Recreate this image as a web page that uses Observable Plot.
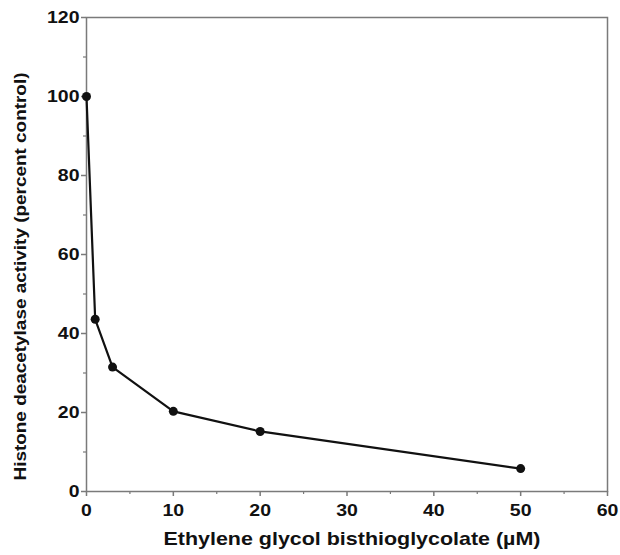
<!DOCTYPE html>
<html>
<head>
<meta charset="utf-8">
<script src="https://cdn.jsdelivr.net/npm/d3@7"></script>
<script src="https://cdn.jsdelivr.net/npm/@observablehq/plot@0.6"></script>
<style>
  html, body { margin: 0; padding: 0; background: #fff; }
  #chart svg { display: block; }
</style>
</head>
<body>
<div id="chart"></div>
<script>
// Inhibitor concentration (µM) and remaining HDAC activity (% of control)
const concentration = [0, 1, 3, 10, 20, 50];
const activity = [100, 43.6, 31.5, 20.3, 15.2, 5.8];

const xMajor = [0, 10, 20, 30, 40, 50, 60];
const xMinor = [5, 15, 25, 35, 45, 55];
const yMajor = [0, 20, 40, 60, 80, 100, 120];
const yMinor = [10, 30, 50, 70, 90, 110];

const xTitle = "Ethylene glycol bisthioglycolate (µM)";
const yTitle = "Histone deacetylase activity (percent control)";

const data = concentration.map((c, i) => ({c, a: activity[i]}));

const axisColor = "#7a7a7a";
const font = "Liberation Sans, Arial, Helvetica, sans-serif";

const chart = Plot.plot({
  width: 620,
  height: 555,
  marginLeft: 86,
  marginRight: 13,
  marginTop: 17,
  marginBottom: 64,
  style: {fontFamily: font, fontWeight: "bold", fontSize: "16.8px", background: "#fff", color: "#111"},
  x: {domain: [0, 60]},
  y: {domain: [0, 120]},
  marks: [
    Plot.frame({stroke: axisColor, strokeWidth: 1.5}),
    Plot.axisX(xMinor, {tickSize: 3, stroke: axisColor, strokeWidth: 1.2, text: null, label: null}),
    Plot.axisY(yMinor, {tickSize: 3, stroke: axisColor, strokeWidth: 1.2, text: null, label: null}),
    Plot.axisX(xMajor, {
      tickSize: 5, tickPadding: 8, stroke: axisColor, strokeWidth: 1.5,
      fill: "#111", fontSize: 16.8, fontWeight: "bold", label: null
    }),
    Plot.axisY(yMajor, {
      tickSize: 5, tickPadding: 2, stroke: axisColor, strokeWidth: 1.5,
      fill: "#111", fontSize: 16.8, fontWeight: "bold", label: null
    }),
    // axis titles
    Plot.text([xTitle], {
      frameAnchor: "bottom", dx: 5, dy: 47.5, lineAnchor: "middle", textAnchor: "middle",
      fill: "#111", fontSize: 18.5, fontWeight: "bold"
    }),
    Plot.text([yTitle], {
      frameAnchor: "left", rotate: -90, dx: -66, dy: 22, lineAnchor: "middle", textAnchor: "middle",
      fill: "#111", fontSize: 16.8, fontWeight: "bold"
    }),
    Plot.line(data, {x: "c", y: "a", stroke: "#111", strokeWidth: 2.2}),
    Plot.dot(data, {x: "c", y: "a", r: 4.5, fill: "#111", stroke: "none"})
  ]
});

document.getElementById("chart").append(chart);

// The figure's lettering is set slightly expanded: widen each label along its run
const stretch = 1.16;
chart.querySelectorAll('[aria-label="x-axis tick label"] text, [aria-label="y-axis tick label"] text')
  .forEach(t => {
    const w = t.getComputedTextLength();
    t.setAttribute("textLength", (w * stretch).toFixed(1));
    t.setAttribute("lengthAdjust", "spacingAndGlyphs");
  });
chart.querySelectorAll('g[aria-label="text"] text').forEach(t => {
  const len = t.textContent === xTitle ? 377 : t.textContent === yTitle ? 408 : null;
  if (len) {
    t.setAttribute("textLength", len);
    t.setAttribute("lengthAdjust", "spacingAndGlyphs");
  }
});
</script>
</body>
</html>
